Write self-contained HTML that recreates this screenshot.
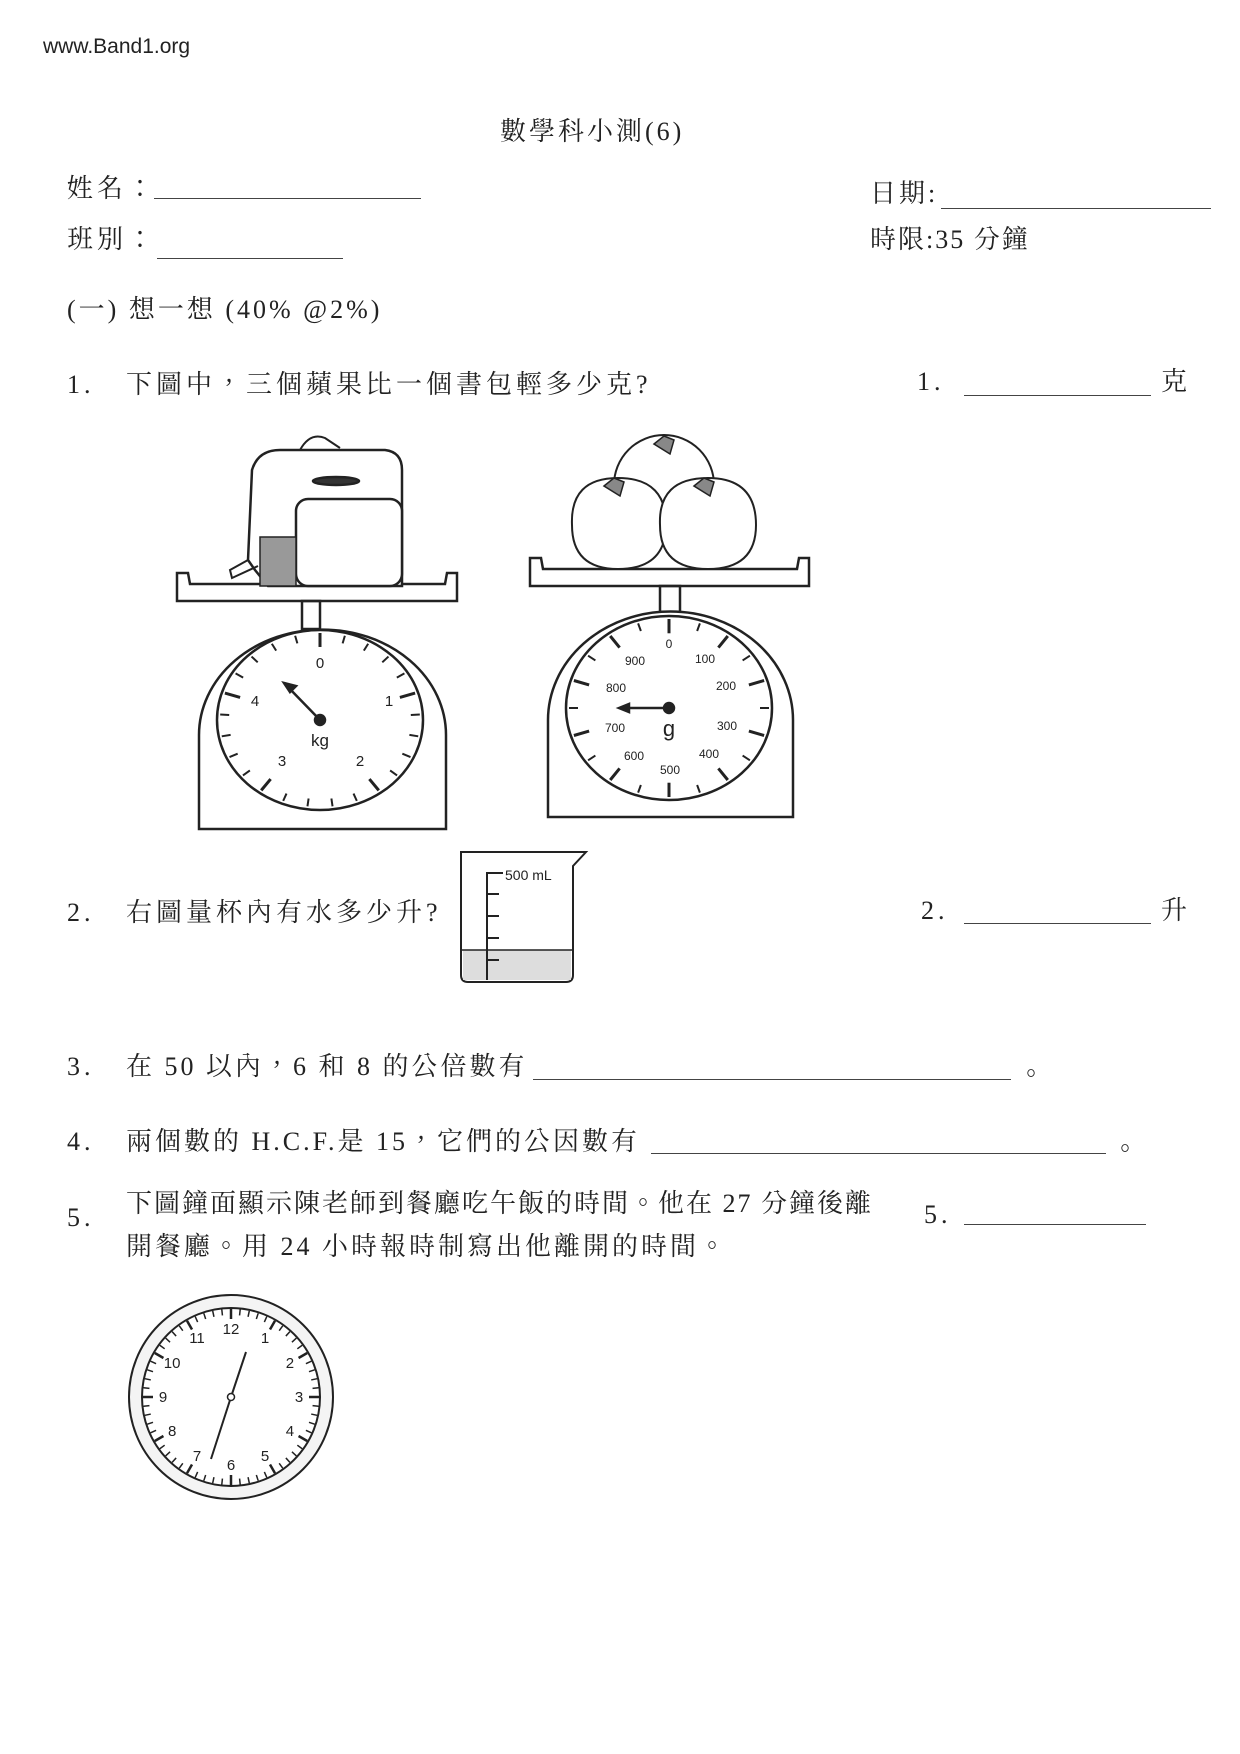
<!DOCTYPE html>
<html><head><meta charset="utf-8">
<style>
html,body{margin:0;padding:0;background:#fff}
#p{position:relative;width:1240px;height:1754px;overflow:hidden;font-family:"Liberation Serif","Noto Serif CJK TC","Noto Serif CJK SC",serif;color:#222}
.t{position:absolute;font-size:26px;letter-spacing:4px;white-space:nowrap;line-height:1}
.l{position:absolute;height:0;border-top:1.5px solid #444}
svg{position:absolute;left:0;top:0}
</style></head><body><div id="p">
<div class="t" style="left:43px;top:36px;font-family:'Liberation Sans',sans-serif;font-size:21px;letter-spacing:0">www.Band1.org</div>
<div class="t" style="left:500px;top:119px;font-size:26px;letter-spacing:3px">數學科小測(6)</div>
<div class="t" style="left:67px;top:176px">姓名：</div><div class="l" style="left:154px;top:198px;width:267px"></div>
<div class="t" style="left:870px;top:181px;letter-spacing:3px">日期:</div><div class="l" style="left:941px;top:208px;width:270px"></div>
<div class="t" style="left:67px;top:227px">班別：</div><div class="l" style="left:157px;top:258px;width:186px"></div>
<div class="t" style="left:870px;top:227px;letter-spacing:2px">時限:35 分鐘</div>
<div class="t" style="left:67px;top:297px;letter-spacing:3px">(一) 想一想 (40% @2%)</div>
<div class="t" style="left:67px;top:372px">1.</div><div class="t" style="left:126px;top:372px">下圖中，三個蘋果比一個書包輕多少克?</div>
<div class="t" style="left:917px;top:369px">1.</div><div class="l" style="left:964px;top:395px;width:187px"></div><div class="t" style="left:1161px;top:369px">克</div>
<div class="t" style="left:67px;top:900px">2.</div><div class="t" style="left:126px;top:900px">右圖量杯內有水多少升?</div>
<div class="t" style="left:921px;top:898px">2.</div><div class="l" style="left:964px;top:923px;width:187px"></div><div class="t" style="left:1161px;top:898px">升</div>
<div class="t" style="left:67px;top:1054px">3.</div><div class="t" style="left:126px;top:1054px;letter-spacing:3px">在 50 以內，6 和 8 的公倍數有</div><div class="l" style="left:533px;top:1079px;width:478px"></div><div class="t" style="left:1018px;top:1062px">。</div>
<div class="t" style="left:67px;top:1129px">4.</div><div class="t" style="left:126px;top:1129px;letter-spacing:3px">兩個數的 H.C.F.是 15，它們的公因數有</div><div class="l" style="left:651px;top:1153px;width:455px"></div><div class="t" style="left:1112px;top:1137px">。</div>
<div class="t" style="left:67px;top:1205px">5.</div><div class="t" style="left:126px;top:1191px;letter-spacing:2px">下圖鐘面顯示陳老師到餐廳吃午飯的時間。他在 27 分鐘後離</div>
<div class="t" style="left:126px;top:1234px;letter-spacing:3px">開餐廳。用 24 小時報時制寫出他離開的時間。</div>
<div class="t" style="left:924px;top:1202px">5.</div><div class="l" style="left:964px;top:1224px;width:182px"></div>

<svg id="s" width="1240" height="1754" fill="none" stroke="#222" stroke-width="2.5" font-family="Liberation Sans,sans-serif">
<path d="M177 573 L177 601 L457 601 L457 573 L447 573 L445 584 L190 584 L188 573 Z" fill="#fff"/>
<rect x="302" y="601" width="18" height="28"/>
<path d="M199 829 L199 735 A123 105 0 0 1 446 735 L446 829 Z" fill="#fff"/>
<ellipse cx="320" cy="720" rx="103" ry="90"/>
<path d="M252 470 Q258 450 280 450 L385 450 Q402 452 402 470 L402 586 L268 586 L255 570 L248 560 Z" fill="#fff"/>
<path d="M300 450 Q310 432 325 438 L340 448" stroke-width="2"/>
<rect x="296" y="499" width="106" height="87" rx="12" fill="#fff"/>
<rect x="260" y="537" width="36" height="49" fill="#999" stroke-width="1.5"/>
<ellipse cx="336" cy="481" rx="23" ry="4" fill="#333"/>
<path d="M248 560 L230 570 L232 578 L258 566" stroke-width="2"/>
<path d="M530 558 L530 586 L809 586 L809 558 L799 558 L797 569 L543 569 L541 558 Z" fill="#fff"/>
<rect x="660" y="586" width="20" height="26"/>
<path d="M548 817 L548 720 A122 108 0 0 1 793 720 L793 817 Z" fill="#fff"/>
<ellipse cx="669" cy="708" rx="103" ry="92"/>
<circle cx="664" cy="485" r="50" fill="#fff" stroke-width="2"/>
<path d="M572 525 Q570 478 618 478 Q668 478 666 528 Q664 569 618 569 Q572 569 572 525Z" fill="#fff" stroke-width="2"/>
<path d="M660 525 Q658 478 708 478 Q756 478 756 525 Q756 569 708 569 Q660 569 660 525Z" fill="#fff" stroke-width="2"/>
<path d="M654 444 l10 -8 l10 4 l-4 14 z M604 486 l10 -8 l10 4 l-4 14 z M694 486 l10 -8 l10 4 l-4 14 z" fill="#888" stroke-width="1.5"/>
<g id="ticks" stroke-width="2"></g>
<g font-size="15" fill="#222" stroke="none" text-anchor="middle">
<text x="320" y="668">0</text><text x="389" y="706">1</text><text x="360" y="766">2</text><text x="282" y="766">3</text><text x="255" y="706">4</text>
<text x="320" y="746" font-size="17">kg</text>
</g>
<g font-size="12" fill="#222" stroke="none" text-anchor="middle">
<text x="669" y="648">0</text><text x="705" y="663">100</text><text x="726" y="690">200</text><text x="727" y="730">300</text><text x="709" y="758">400</text><text x="670" y="774">500</text><text x="634" y="760">600</text><text x="615" y="732">700</text><text x="616" y="692">800</text><text x="635" y="665">900</text>
<text x="669" y="736" font-size="22">g</text>
</g>
<line x1="320" y1="720" x2="287" y2="686" stroke-width="2.5"/><path d="M284 683 l12 3 l-6 6 z" fill="#222"/><circle cx="320" cy="720" r="5" fill="#222"/>
<line x1="669" y1="708" x2="625" y2="708" stroke-width="2.5"/><path d="M619 708 l10 -4 l0 8 z" fill="#222"/><circle cx="669" cy="708" r="5" fill="#222"/>
<path d="M461 852 L461 975 Q461 982 468 982 L566 982 Q573 982 573 975 L573 866 L586 852 Z" stroke-width="2"/>
<rect x="463" y="950" width="108" height="30" fill="#ddd" stroke="none"/>
<line x1="461" y1="950" x2="573" y2="950" stroke-width="1.5"/>
<path d="M487 980 L487 873 L503 873 M487 894 L499 894 M487 916 L499 916 M487 938 L499 938 M487 960 L499 960" stroke-width="2"/>
<text x="505" y="880" font-size="14" fill="#222" stroke="none">500 mL</text>
<circle cx="231" cy="1397" r="102" fill="#f4f4f4" stroke-width="2"/>
<circle cx="231" cy="1397" r="89" fill="#fff" stroke-width="2"/>
<g id="cticks" stroke-width="1.5"></g>
<g font-size="15" fill="#222" stroke="none" text-anchor="middle" id="cnum"></g>
<line x1="231" y1="1397" x2="246" y2="1352" stroke-width="2"/>
<line x1="231" y1="1397" x2="211" y2="1459" stroke-width="2"/>
<circle cx="231" cy="1397" r="3.5" fill="#fff" stroke-width="1.5"/>
</svg>
</div>
<script>
var NS="http://www.w3.org/2000/svg";
function ln(g,x1,y1,x2,y2,w){var l=document.createElementNS(NS,"line");l.setAttribute("x1",x1);l.setAttribute("y1",y1);l.setAttribute("x2",x2);l.setAttribute("y2",y2);if(w)l.setAttribute("stroke-width",w);g.appendChild(l);}
var g=document.getElementById("ticks");
function dial(cx,cy,rx,ry,n,maj){for(var i=0;i<n;i++){var a=i*2*Math.PI/n,s=Math.sin(a),c=-Math.cos(a);var L=(i%maj==0)?16:9;ln(g,cx+s*(rx-3),cy+c*(ry-3),cx+s*(rx-3-L),cy+c*(ry-3-L*ry/rx),i%maj==0?3:2);}}
dial(320,720,103,90,25,5);dial(669,708,103,92,20,2);
var cg=document.getElementById("cticks");
for(var i=0;i<60;i++){var a=i*Math.PI/30,s=Math.sin(a),c=-Math.cos(a),L=i%5==0?10:6;ln(cg,231+s*88,1397+c*88,231+s*(88-L),1397+c*(88-L),i%5==0?2.5:1.5);}
var cn=document.getElementById("cnum");
for(var h=1;h<=12;h++){var a=h*Math.PI/6,t=document.createElementNS(NS,"text");t.setAttribute("x",231+Math.sin(a)*68);t.setAttribute("y",1397-Math.cos(a)*68+5);t.textContent=h;cn.appendChild(t);}
</script>
</body></html>
